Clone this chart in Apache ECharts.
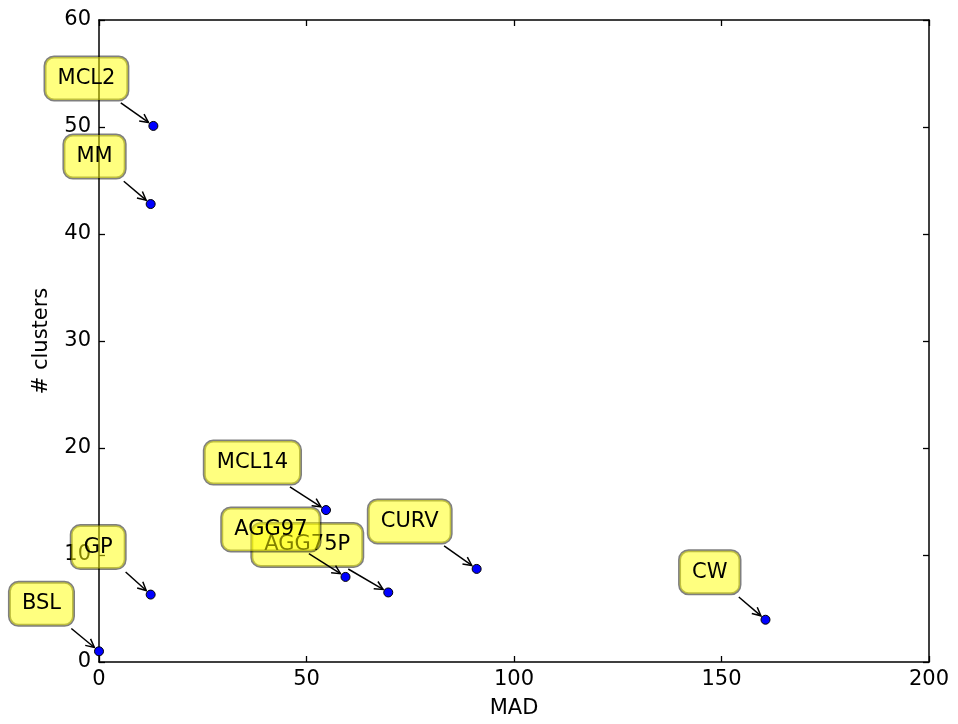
<!DOCTYPE html>
<html>
<head>
<meta charset="utf-8">
<script src="https://cdn.jsdelivr.net/npm/echarts@6/dist/echarts.min.js"></script>
<style>html,body{margin:0;padding:0;background:#fff}#c{width:958px;height:724px}</style>
</head>
<body>
<div id="c"></div>
<script>
// ---- data ----
const names = ['BSL', 'GP', 'MM', 'MCL2', 'MCL14', 'AGG75P', 'AGG97', 'CURV', 'CW'];
const mad = [0, 12.45, 12.45, 13.1, 54.7, 69.7, 59.4, 91.0, 160.6];
const clusters = [1.0, 6.3, 42.8, 50.1, 14.2, 6.5, 7.95, 8.7, 3.95];
const xTicks = { min: 0, max: 200, interval: 50 };
const yTicks = { min: 0, max: 60, interval: 10 };

// ---- style ----
const FONT_FAMILY = '"DejaVu Sans", "Liberation Sans", sans-serif';
const FS = 21;
const PAD_X = 12.5, PAD_Y = 10.5, LINE_H = 22;
const OFF_X = -25.5, OFF_Y = -26;
const SHRINK_A = 5, SHRINK_B = 6, HEAD = 9.4, HEAD_ANG = Math.atan(0.5);

const measureCtx = document.createElement('canvas').getContext('2d');
measureCtx.font = FS + 'px ' + FONT_FAMILY;
function textW(t) { return measureCtx.measureText(t).width; }

const points = mad.map((x, i) => [x, clusters[i]]);

const chart = echarts.init(document.getElementById('c'), null, { renderer: 'canvas' });

function axisCommon() {
  return {
    axisLine: { show: true, onZero: false, lineStyle: { color: '#000', width: 1.5 } },
    axisTick: { show: true, inside: true, length: 6, lineStyle: { color: '#000', width: 1.3 } },
    splitLine: { show: false },
    minorTick: { show: false }
  };
}

function renderItem(params, api) {
  const p = api.coord([api.value(0), api.value(1)]);
  const name = names[params.dataIndex];
  const w = textW(name) + 2 * PAD_X;
  const h = LINE_H + 2 * PAD_Y;
  const right = p[0] + OFF_X, bottom = p[1] + OFF_Y;
  const cx = right - w / 2, cy = bottom - h / 2;
  const dx = p[0] - cx, dy = p[1] - cy;
  const len = Math.hypot(dx, dy);
  const ux = dx / len, uy = dy / len;
  const t = Math.min((w / 2) / Math.abs(dx), (h / 2) / Math.abs(dy));
  const sx = cx + dx * t + ux * SHRINK_A, sy = cy + dy * t + uy * SHRINK_A;
  const ex = p[0] - ux * SHRINK_B, ey = p[1] - uy * SHRINK_B;
  const ang = Math.atan2(-uy, -ux);
  const l1 = [ex + HEAD * Math.cos(ang + HEAD_ANG), ey + HEAD * Math.sin(ang + HEAD_ANG)];
  const l2 = [ex + HEAD * Math.cos(ang - HEAD_ANG), ey + HEAD * Math.sin(ang - HEAD_ANG)];
  return {
    type: 'group',
    children: [
      { type: 'line', shape: { x1: sx, y1: sy, x2: ex, y2: ey }, style: { stroke: '#000', lineWidth: 1.5 } },
      { type: 'polyline', shape: { points: [l1, [ex, ey], l2] }, style: { stroke: '#000', lineWidth: 1.5, fill: null } },
      {
        type: 'text', x: right, y: bottom,
        style: {
          text: name, font: FS + 'px ' + FONT_FAMILY, fill: '#000',
          align: 'right', verticalAlign: 'bottom', lineHeight: LINE_H,
          backgroundColor: 'rgba(255,255,0,0.5)', borderColor: 'rgba(0,0,0,0.5)',
          borderWidth: 1.5, borderRadius: 9, padding: [PAD_Y, PAD_X, PAD_Y, PAD_X]
        }
      }
    ]
  };
}

chart.setOption({
  animation: false,
  backgroundColor: '#fff',
  grid: { left: 99, right: 29, top: 20, bottom: 61, containLabel: false },
  xAxis: [
    Object.assign(axisCommon(), {
      type: 'value', position: 'bottom', min: xTicks.min, max: xTicks.max, interval: xTicks.interval,
      name: 'MAD', nameLocation: 'middle', nameGap: 36,
      nameTextStyle: { fontFamily: FONT_FAMILY, fontSize: FS, color: '#000' },
      axisLabel: { fontFamily: FONT_FAMILY, fontSize: FS, color: '#000', margin: 7 }
    }),
    Object.assign(axisCommon(), {
      type: 'value', position: 'top', min: xTicks.min, max: xTicks.max, interval: xTicks.interval,
      axisLabel: { show: false }
    })
  ],
  yAxis: [
    Object.assign(axisCommon(), {
      type: 'value', position: 'left', min: yTicks.min, max: yTicks.max, interval: yTicks.interval,
      name: '# clusters', nameLocation: 'middle', nameGap: 47, nameRotate: 90,
      nameTextStyle: { fontFamily: FONT_FAMILY, fontSize: FS, color: '#000' },
      axisLabel: { fontFamily: FONT_FAMILY, fontSize: FS, color: '#000', margin: 8 }
    }),
    Object.assign(axisCommon(), {
      type: 'value', position: 'right', min: yTicks.min, max: yTicks.max, interval: yTicks.interval,
      axisLabel: { show: false }
    })
  ],
  series: [
    {
      type: 'scatter', xAxisIndex: 0, yAxisIndex: 0, data: points,
      symbol: 'circle', symbolSize: 9, z: 2,
      itemStyle: { color: '#0000ff', borderColor: '#000', borderWidth: 1, opacity: 1 },
      emphasis: { disabled: true }, clip: false
    },
    {
      type: 'custom', xAxisIndex: 0, yAxisIndex: 0, data: points, z: 3,
      renderItem: renderItem, clip: false, silent: true
    }
  ]
});
</script>
</body>
</html>
